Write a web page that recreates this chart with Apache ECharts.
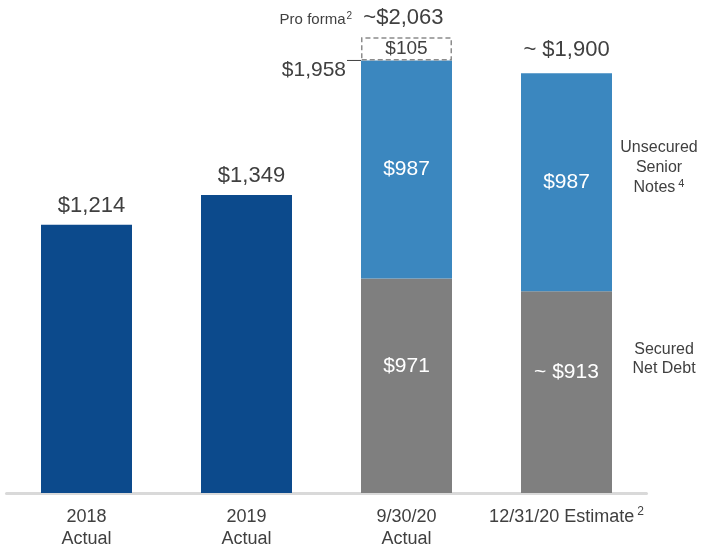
<!DOCTYPE html>
<html>
<head>
<meta charset="utf-8">
<script src="https://cdn.jsdelivr.net/npm/echarts@6/dist/echarts.min.js"></script>
<style>
  html, body { margin: 0; padding: 0; background: #ffffff; }
  #chart { width: 701px; height: 551px; }
</style>
</head>
<body>
<div id="chart"></div>
<script>
// Net debt by period ($ millions)
const categories = ['2018\nActual', '2019\nActual', '9/30/20\nActual', '12/31/20 Estimate'];
const totalDebt = [1214, 1349, null, null];
const securedNetDebt = [null, null, 971, 913];
const unsecuredNotes = [null, null, 987, 987];
const proFormaAddition = [null, null, 105, null];
const isEstimate = [false, false, false, true];

const FONT = '"Liberation Sans", Arial, Helvetica, sans-serif';
const TEXT = '#404040';
const DARK_BLUE = '#0c4a8c';
const LIGHT_BLUE = '#3b87bf';
const GRAY = '#7f7f7f';

const money = v => '$' + Math.round(v).toLocaleString('en-US');

const chart = echarts.init(document.getElementById('chart'), null, { renderer: 'canvas' });

const option = {
  backgroundColor: '#ffffff',
  animation: false,
  textStyle: { fontFamily: FONT },
  grid: { left: 6.5, right: 54.5, top: 7, bottom: 58, containLabel: false },
  xAxis: {
    type: 'category',
    data: categories,
    axisLine: { show: true, lineStyle: { color: '#d9d9d9', width: 3 } },
    axisTick: { show: false },
    axisLabel: {
      interval: 0,
      margin: 13,
      fontSize: 18,
      lineHeight: 22,
      color: TEXT,
      fontFamily: FONT,
      formatter: (v, i) => i === 3 ? '{t|' + v + '}{s|2}' : v,
      rich: {
        t: { fontSize: 18, color: TEXT, fontFamily: FONT, lineHeight: 22 },
        s: { fontSize: 12, color: TEXT, fontFamily: FONT, verticalAlign: 'top', padding: [0, 0, 6, 3] }
      }
    }
  },
  yAxis: {
    type: 'value',
    min: 0,
    max: 2200,
    show: false,
    splitLine: { show: false }
  },
  series: [
    {
      name: 'Net Debt',
      type: 'bar',
      stack: 'debt',
      barWidth: 91,
      data: totalDebt,
      itemStyle: { color: DARK_BLUE },
      label: {
        show: true,
        position: 'top',
        distance: 8,
        offset: [5, 0],
        fontSize: 22,
        color: TEXT,
        fontFamily: FONT,
        formatter: p => money(p.value)
      }
    },
    {
      name: 'Secured Net Debt',
      type: 'bar',
      stack: 'debt',
      barWidth: 91,
      data: securedNetDebt,
      itemStyle: { color: GRAY },
      label: {
        show: true,
        position: 'inside',
        offset: [0, -20],
        fontSize: 21,
        color: '#ffffff',
        fontFamily: FONT,
        formatter: p => (isEstimate[p.dataIndex] ? '~ ' : '') + money(p.value)
      }
    },
    {
      name: 'Unsecured Senior Notes',
      type: 'bar',
      stack: 'debt',
      barWidth: 91,
      data: unsecuredNotes,
      itemStyle: { color: LIGHT_BLUE },
      label: {
        show: true,
        position: 'inside',
        fontSize: 21,
        color: '#ffffff',
        fontFamily: FONT,
        formatter: p => money(p.value)
      }
    },
    {
      name: 'Pro forma',
      type: 'bar',
      stack: 'debt',
      barWidth: 91,
      data: proFormaAddition,
      itemStyle: {
        color: 'rgba(0,0,0,0)',
        borderColor: '#8c8c8c',
        borderWidth: 1.5,
        borderType: [5, 3]
      },
      label: {
        show: true,
        position: 'inside',
        fontSize: 19,
        color: TEXT,
        fontFamily: FONT,
        formatter: p => money(p.value)
      }
    }
  ]
};

chart.setOption(option);

// Totals and side annotations placed from data coordinates
const px = (i, v) => chart.convertToPixel({ xAxisIndex: 0, yAxisIndex: 0 }, [i, v]);
const halfBar = 45.5;

const actualTotal = securedNetDebt[2] + unsecuredNotes[2];
const proFormaTotal = actualTotal + proFormaAddition[2];
const estimateTotal = securedNetDebt[3] + unsecuredNotes[3];

const pActual = px(2, actualTotal);
const pProForma = px(2, proFormaTotal);
const pEstimate = px(3, estimateTotal);

const graphics = [
  // leader from the actual total to the bar's top-left corner
  {
    type: 'line',
    shape: { x1: pActual[0] - halfBar - 14, y1: pActual[1], x2: pActual[0] - halfBar, y2: pActual[1] },
    style: { stroke: TEXT, lineWidth: 1 }
  },
  {
    type: 'text',
    x: pActual[0] - halfBar - 15,
    y: pActual[1] + 10,
    style: {
      text: money(actualTotal),
      fontSize: 21,
      fontFamily: FONT,
      fill: TEXT,
      align: 'right',
      verticalAlign: 'middle'
    }
  },
  {
    type: 'text',
    x: pProForma[0] + 37,
    y: pProForma[1] - 19,
    style: {
      text: '{a|Pro forma}{b|2} {c|~' + money(proFormaTotal) + '}',
      align: 'right',
      verticalAlign: 'middle',
      rich: {
        a: { fontSize: 15, fontFamily: FONT, fill: TEXT, padding: [4, 0, 0, 0] },
        b: { fontSize: 10, fontFamily: FONT, fill: TEXT, padding: [0, 8, 4, 1] },
        c: { fontSize: 22, fontFamily: FONT, fill: TEXT }
      }
    }
  },
  {
    type: 'text',
    x: pEstimate[0],
    y: pEstimate[1] - 23,
    style: {
      text: '~ ' + money(estimateTotal),
      fontSize: 22,
      fontFamily: FONT,
      fill: TEXT,
      align: 'center',
      verticalAlign: 'middle'
    }
  },
  {
    type: 'text',
    x: 659,
    y: 168,
    style: {
      text: '{t|Unsecured}\n{t|Senior}\n{t|Notes}{s| 4}',
      align: 'center',
      verticalAlign: 'middle',
      rich: {
        t: { fontSize: 16, fontFamily: FONT, fill: TEXT, lineHeight: 20 },
        s: { fontSize: 11, fontFamily: FONT, fill: TEXT, lineHeight: 20, verticalAlign: 'top', padding: [0, 0, 6, 0] }
      }
    }
  },
  {
    type: 'text',
    x: 664,
    y: 359,
    style: {
      text: 'Secured\nNet Debt',
      fontSize: 16,
      lineHeight: 19,
      fontFamily: FONT,
      fill: TEXT,
      align: 'center',
      verticalAlign: 'middle'
    }
  }
];

chart.setOption({ graphic: graphics });
</script>
</body>
</html>
